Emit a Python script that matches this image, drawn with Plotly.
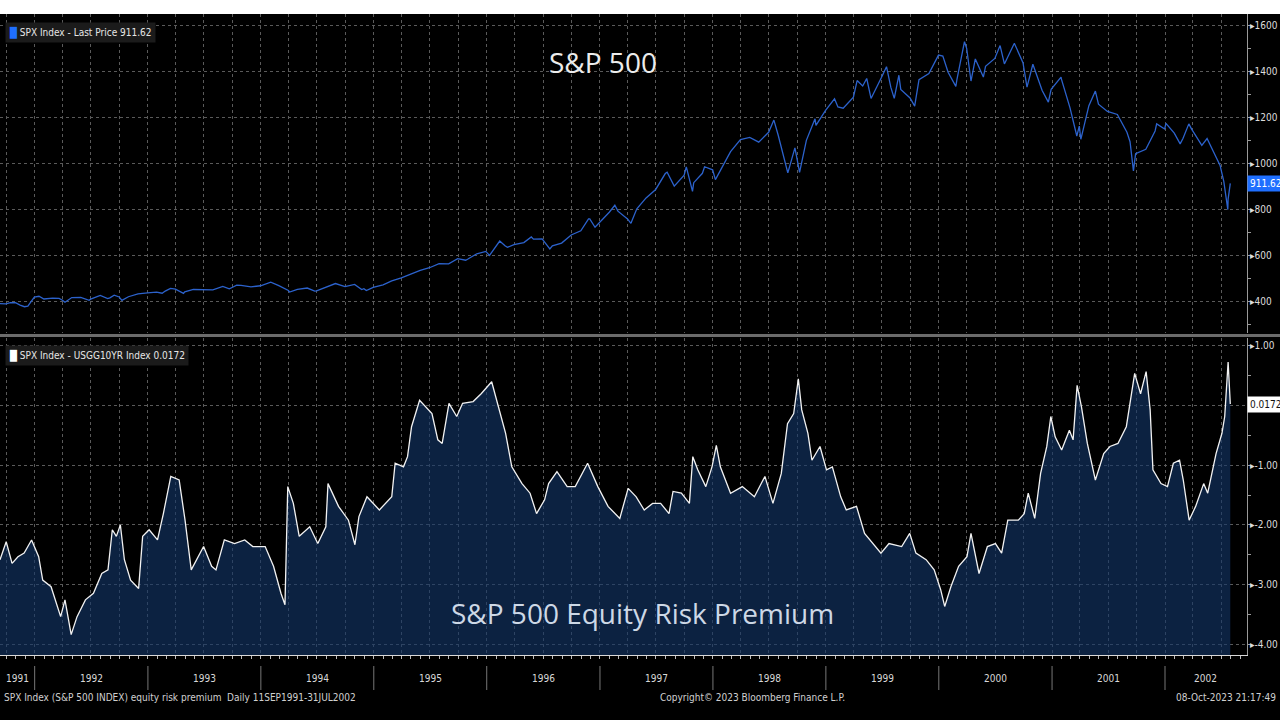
import plotly.graph_objects as go
import pandas as pd

# S&P 500 last price (month ends plus the main swings)
spx_dates = [
    "1991-09-11", "1991-09-30", "1991-10-15", "1991-10-31", "1991-11-15", "1991-11-29", "1991-12-10", "1991-12-31",
    "1992-01-15", "1992-01-31", "1992-02-28", "1992-03-20", "1992-03-31", "1992-04-08", "1992-04-30", "1992-05-29",
    "1992-06-25", "1992-06-30", "1992-07-31", "1992-08-24", "1992-08-31", "1992-09-14", "1992-09-30", "1992-10-09",
    "1992-10-30", "1992-11-30", "1992-12-31",
    "1993-01-29", "1993-02-16", "1993-02-26", "1993-03-15", "1993-03-31", "1993-04-26", "1993-04-30", "1993-05-28",
    "1993-06-30", "1993-07-30", "1993-08-31", "1993-09-21", "1993-09-30", "1993-10-15", "1993-10-29", "1993-11-30",
    "1993-12-31",
    "1994-02-02", "1994-02-28", "1994-03-31", "1994-04-04", "1994-04-29", "1994-05-31", "1994-06-24", "1994-06-30",
    "1994-07-29", "1994-08-30", "1994-09-30", "1994-10-31", "1994-11-23", "1994-11-30", "1994-12-08", "1994-12-30",
    "1995-01-31", "1995-02-28", "1995-03-31", "1995-04-28", "1995-05-31", "1995-06-30", "1995-07-31", "1995-08-31",
    "1995-09-29", "1995-10-25", "1995-10-31", "1995-11-30", "1995-12-29",
    "1996-01-10", "1996-01-31", "1996-02-12", "1996-02-29", "1996-03-08", "1996-03-29", "1996-04-30", "1996-05-24",
    "1996-05-31", "1996-06-28", "1996-07-23", "1996-07-31", "1996-08-30", "1996-09-30", "1996-10-31", "1996-11-25",
    "1996-11-29", "1996-12-16", "1996-12-31",
    "1997-01-31", "1997-02-18", "1997-02-28", "1997-03-31", "1997-04-11", "1997-04-30", "1997-05-30", "1997-06-30",
    "1997-07-31", "1997-08-06", "1997-08-29", "1997-09-30", "1997-10-07", "1997-10-27", "1997-10-31", "1997-11-28",
    "1997-12-05", "1997-12-31",
    "1998-01-09", "1998-01-30", "1998-02-27", "1998-03-31", "1998-04-30", "1998-05-29", "1998-06-30", "1998-07-17",
    "1998-07-31", "1998-08-31", "1998-09-23", "1998-09-30", "1998-10-08", "1998-10-30", "1998-11-27", "1998-11-30",
    "1998-12-31",
    "1999-01-29", "1999-02-09", "1999-02-26", "1999-03-31", "1999-04-12", "1999-04-30", "1999-05-13", "1999-05-27",
    "1999-06-30", "1999-07-16", "1999-07-30", "1999-08-10", "1999-08-25", "1999-08-31", "1999-09-30", "1999-10-15",
    "1999-10-29", "1999-11-30", "1999-12-31",
    "2000-01-14", "2000-01-31", "2000-02-25", "2000-02-29", "2000-03-24", "2000-03-31", "2000-04-14", "2000-04-28",
    "2000-05-24", "2000-05-31", "2000-06-30", "2000-07-17", "2000-07-31", "2000-08-31", "2000-09-01", "2000-09-29",
    "2000-10-12", "2000-10-31", "2000-11-30", "2000-12-20", "2000-12-29",
    "2001-01-30", "2001-01-31", "2001-02-28", "2001-03-22", "2001-03-30", "2001-04-04", "2001-04-30", "2001-05-21",
    "2001-05-31", "2001-06-29", "2001-07-31", "2001-08-31", "2001-09-10", "2001-09-21", "2001-09-28", "2001-10-31",
    "2001-11-30", "2001-12-05", "2001-12-31",
    "2002-01-04", "2002-01-31", "2002-02-19", "2002-02-28", "2002-03-19", "2002-03-28", "2002-04-30", "2002-05-17",
    "2002-05-31", "2002-06-28", "2002-07-10", "2002-07-23", "2002-07-24", "2002-07-31",
]
spx_values = [
    388.6, 387.9, 392.8, 392.5, 382.6, 375.2, 377.9, 417.1,
    420.8, 408.8, 412.7, 411.3, 403.7, 394.5, 415.0, 415.4,
    403.4, 408.1, 424.2, 410.7, 414.0, 425.3, 417.8, 402.7,
    418.7, 431.4, 435.7,
    438.8, 433.9, 443.4, 455.0, 451.7, 433.5, 440.2, 450.2,
    450.5, 448.1, 463.6, 452.9, 458.9, 469.5, 467.8, 461.8,
    466.5,
    482.0, 467.1, 445.8, 438.9, 450.9, 456.5, 442.8, 444.3,
    458.3, 476.1, 462.7, 472.4, 449.9, 453.7, 445.5, 459.3,
    470.4, 487.4, 500.7, 514.7, 533.4, 544.8, 562.1, 561.9,
    584.4, 577.5, 581.5, 605.4, 615.9,
    598.5, 636.0, 661.0, 640.4, 633.5, 645.5, 654.2, 678.5,
    669.1, 670.6, 626.9, 640.0, 652.0, 687.3, 705.3, 757.0,
    757.0, 720.9, 740.7,
    786.2, 816.3, 790.8, 757.1, 737.7, 801.3, 848.3, 885.1,
    954.3, 960.3, 899.5, 947.3, 983.1, 877.0, 914.6, 955.4,
    983.8, 970.4,
    927.7, 980.3, 1049.3, 1101.8, 1111.8, 1090.8, 1133.8, 1186.8,
    1120.7, 957.3, 1066.1, 1017.0, 959.4, 1098.7, 1192.3, 1163.6,
    1229.2,
    1279.6, 1243.8, 1238.3, 1286.4, 1358.6, 1335.2, 1367.6, 1280.8,
    1372.7, 1418.8, 1328.7, 1281.4, 1381.8, 1320.4, 1282.7, 1247.4,
    1362.9, 1388.9, 1469.3,
    1465.2, 1394.5, 1333.4, 1366.4, 1527.5, 1498.6, 1356.6, 1452.4,
    1373.9, 1420.6, 1454.6, 1510.5, 1430.8, 1517.7, 1520.8, 1436.5,
    1329.8, 1429.4, 1315.0, 1264.7, 1320.3,
    1373.7, 1366.0, 1239.9, 1117.6, 1160.3, 1103.3, 1249.5, 1312.8,
    1255.8, 1224.4, 1211.2, 1133.6, 1092.5, 965.8, 1040.9, 1059.8,
    1139.5, 1170.4, 1148.1,
    1172.5, 1130.2, 1083.3, 1106.7, 1170.3, 1147.4, 1076.9, 1106.6,
    1067.1, 989.8, 920.5, 797.7, 843.4, 911.62,
]

# SPX earnings yield minus USGG10YR (equity risk premium)
erp_dates = [
    "1991-09-11", "1991-10-01", "1991-10-20", "1991-11-08", "1991-11-28", "1991-12-22",
    "1992-01-14", "1992-01-27", "1992-02-23", "1992-03-12", "1992-03-25", "1992-04-08", "1992-04-28", "1992-05-17",
    "1992-06-13", "1992-07-09", "1992-08-05", "1992-08-25", "1992-09-08", "1992-09-21", "1992-10-04", "1992-10-17",
    "1992-11-06", "1992-12-02", "1992-12-15",
    "1993-01-05", "1993-02-01", "1993-02-20", "1993-03-16", "1993-04-12", "1993-05-01", "1993-05-21", "1993-06-30",
    "1993-07-26", "1993-08-09", "1993-09-05", "1993-10-08", "1993-11-10", "1993-12-06",
    "1994-01-15", "1994-02-11", "1994-03-07", "1994-03-20", "1994-03-29", "1994-04-16", "1994-05-05", "1994-06-08",
    "1994-07-04", "1994-07-30", "1994-08-06", "1994-09-09", "1994-10-11", "1994-11-01", "1994-11-14", "1994-12-10",
    "1995-01-19", "1995-02-28", "1995-03-11", "1995-04-07", "1995-04-20", "1995-05-03", "1995-05-29", "1995-07-08",
    "1995-07-27", "1995-08-10", "1995-09-01", "1995-09-26", "1995-10-15", "1995-11-18", "1995-12-14",
    "1996-01-17", "1996-01-30", "1996-03-02", "1996-03-22", "1996-04-24", "1996-05-20", "1996-06-10", "1996-07-06",
    "1996-07-19", "1996-08-15", "1996-09-17", "1996-10-13", "1996-11-22", "1996-12-25",
    "1997-01-27", "1997-03-06", "1997-04-02", "1997-04-28", "1997-05-24", "1997-06-20", "1997-07-16", "1997-08-12",
    "1997-08-25", "1997-09-21", "1997-10-17", "1997-10-28", "1997-11-13", "1997-12-09", "1997-12-29",
    "1998-01-12", "1998-01-25", "1998-02-27", "1998-04-06", "1998-05-15", "1998-06-18", "1998-07-14", "1998-08-10",
    "1998-08-30", "1998-09-19", "1998-10-04", "1998-10-15", "1998-11-04", "1998-11-17", "1998-12-13",
    "1999-01-03", "1999-01-22", "1999-02-18", "1999-03-08", "1999-04-10", "1999-05-06", "1999-06-02", "1999-06-28",
    "1999-07-24", "1999-09-03", "1999-09-29", "1999-10-19", "1999-11-21", "1999-12-17",
    "2000-01-07", "2000-01-20", "2000-02-09", "2000-03-05", "2000-04-01", "2000-04-14", "2000-05-10", "2000-06-06",
    "2000-07-02", "2000-07-22", "2000-08-11", "2000-09-14", "2000-10-03", "2000-10-16", "2000-11-06", "2000-11-25",
    "2000-12-15", "2000-12-28",
    "2001-01-11", "2001-02-01", "2001-02-26", "2001-03-10", "2001-03-23", "2001-04-06", "2001-04-25", "2001-05-21",
    "2001-06-17", "2001-07-07", "2001-08-02", "2001-08-29", "2001-09-25", "2001-10-14", "2001-11-01", "2001-11-14",
    "2001-11-23", "2001-12-19",
    "2002-01-09", "2002-01-28", "2002-02-17", "2002-03-01", "2002-03-20", "2002-04-10", "2002-05-06", "2002-05-19",
    "2002-06-15", "2002-07-04", "2002-07-13", "2002-07-24", "2002-07-31",
]
erp_values = [
    -2.58, -2.28, -2.64, -2.53, -2.47, -2.25,
    -2.53, -2.92, -3.03, -3.31, -3.53, -3.25, -3.83, -3.53,
    -3.25, -3.14, -2.81, -2.75, -2.08, -2.19, -2.00, -2.58,
    -2.92, -3.06, -2.19,
    -2.08, -2.25, -1.81, -1.19, -1.25, -1.92, -2.75, -2.36,
    -2.69, -2.75, -2.25, -2.31, -2.25, -2.36,
    -2.36, -2.69, -3.14, -3.33, -1.36, -1.64, -2.19, -2.03,
    -2.31, -2.03, -1.31, -1.69, -1.92, -2.33, -1.86, -1.53,
    -1.75, -1.53, -0.97, -1.03, -0.86, -0.36, 0.08, -0.14,
    -0.58, -0.64, 0.03, -0.19, 0.03, 0.06, 0.19,
    0.39, 0.14, -0.47, -1.03, -1.31, -1.47, -1.81, -1.58,
    -1.31, -1.11, -1.36, -1.36, -0.97, -1.36,
    -1.69, -1.89, -1.39, -1.53, -1.75, -1.64, -1.64, -1.81,
    -1.44, -1.47, -1.64, -0.86, -1.08, -1.36, -1.03,
    -0.67, -1.03, -1.47, -1.36, -1.53, -1.19, -1.64, -1.14,
    -0.31, -0.14, 0.44, -0.08, -0.47, -0.92, -0.69,
    -1.08, -1.03, -1.53, -1.75, -1.69, -2.14, -2.31, -2.47,
    -2.31, -2.36, -2.14, -2.47, -2.58, -2.75,
    -3.08, -3.36, -3.03, -2.69, -2.53, -2.14, -2.81, -2.36,
    -2.31, -2.47, -1.92, -1.92, -1.81, -1.47, -1.89, -1.14,
    -0.69, -0.19,
    -0.53, -0.75, -0.42, -0.58, 0.33, -0.03, -0.64, -1.25,
    -0.81, -0.69, -0.64, -0.36, 0.53, 0.19, 0.56, -0.08,
    -1.08, -1.31,
    -1.36, -0.97, -0.92, -1.25, -1.92, -1.69, -1.31, -1.47,
    -0.81, -0.47, -0.19, 0.72, 0.0172,
]

years = list(range(1991, 2003))
spx_ticks = [400, 600, 800, 1000, 1200, 1400, 1600]
erp_ticks = [1, 0, -1, -2, -3, -4]

X_RANGE = ["1991-09-11", "2002-09-23"]
SPX_RANGE = [261, 1648]
ERP_RANGE = [-4.17, 1.12]

W, H = 1280, 720
M_L, M_R, M_T, M_B = 0, 33, 14, 65
plot_w = W - M_L - M_R
plot_h = H - M_T - M_B


def py(px):
    # pixel row -> paper y
    return (H - M_B - px) / plot_h


def pxx(px):
    return (px - M_L) / plot_w


FONT = "DejaVu Sans Condensed, Liberation Sans Narrow, sans-serif"
TITLE_FONT = "Open Sans, Noto Sans, sans-serif"
GRID = "#5a5a5a"

fig = go.Figure()

# upper panel: price line
fig.add_trace(go.Scatter(x=spx_dates, y=spx_values, mode="lines",
                         line=dict(color="#2c62cc", width=1.3),
                         xaxis="x2", yaxis="y2", hoverinfo="skip"))

# lower panel: baseline then filled premium line
fig.add_trace(go.Scatter(x=[erp_dates[0], erp_dates[-1]], y=[ERP_RANGE[0]] * 2,
                         mode="lines", line=dict(width=0), hoverinfo="skip"))
fig.add_trace(go.Scatter(x=erp_dates, y=erp_values, mode="lines",
                         line=dict(color="#f2f2f2", width=1.3),
                         fill="tonexty", fillcolor="rgba(20,55,105,0.62)",
                         hoverinfo="skip"))

xcommon = dict(type="date", range=X_RANGE, showgrid=True, gridcolor=GRID, griddash="dot",
               gridwidth=1, tick0="1991-10-01", dtick="M3", zeroline=False,
               showticklabels=False)

fig.update_layout(
    width=W, height=H,
    margin=dict(l=M_L, r=M_R, t=M_T, b=M_B),
    paper_bgcolor="black", plot_bgcolor="black",
    showlegend=False,
    font=dict(family=FONT, color="#dddddd", size=10),
    xaxis=dict(**xcommon, anchor="y", showline=True, linecolor="#d8d8d8", linewidth=1,
               ticks="outside", ticklen=3, tickcolor="#bbbbbb",
               minor=dict(dtick="M1", tick0="1991-10-01", ticks="outside", ticklen=3,
                          tickcolor="#bbbbbb", showgrid=False)),
    xaxis2=dict(**xcommon, anchor="y2", matches="x", showline=False, ticks=""),
    yaxis=dict(domain=[0, py(338)], range=ERP_RANGE, side="right", anchor="x",
               tickmode="array", tickvals=erp_ticks,
               ticktext=["▸1.00" if v == 1 else ("" if v == 0 else "▸%.2f" % v) for v in erp_ticks],
               showgrid=True, gridcolor=GRID, griddash="dot", zeroline=False,
               showline=True, linecolor="#9a9a9a", linewidth=1, ticks="",
               ticklabelstandoff=0,
               tickfont=dict(family=FONT, size=10, color="#dddddd"),
               minor=dict(tickmode="linear", tick0=0, dtick=0.5, ticks="outside",
                          ticklen=3, tickcolor="#9a9a9a", showgrid=False)),
    yaxis2=dict(domain=[py(333), 1], range=SPX_RANGE, side="right", anchor="x2",
                tickmode="array", tickvals=spx_ticks, ticktext=["▸%d" % v for v in spx_ticks],
                showgrid=True, gridcolor=GRID, griddash="dot", zeroline=False,
                showline=True, linecolor="#9a9a9a", linewidth=1, ticks="",
                ticklabelstandoff=0,
                tickfont=dict(family=FONT, size=10, color="#dddddd"),
                minor=dict(tickmode="linear", tick0=0, dtick=100, ticks="outside",
                           ticklen=3, tickcolor="#9a9a9a", showgrid=False)),
)

shapes = []
# white strip at the very top
shapes.append(dict(type="rect", xref="paper", yref="paper", x0=-0.01, x1=W / plot_w + 0.01,
                   y0=1, y1=py(0) + 0.01, fillcolor="white", line=dict(width=0), layer="above"))
# separator between panels
shapes.append(dict(type="line", xref="paper", yref="paper", x0=0, x1=W / plot_w,
                   y0=py(335.5), y1=py(335.5), line=dict(color="#6b6b6b", width=3), layer="above"))
# year separators under the axis
for yr in years[1:]:
    d = "%d-01-01" % yr
    shapes.append(dict(type="line", xref="x", yref="paper", x0=d, x1=d,
                       y0=py(666), y1=py(690), line=dict(color="#777777", width=1)))
fig.update_layout(shapes=shapes)

ann = []
# year labels centred in the visible part of each year
r0, r1 = pd.Timestamp(X_RANGE[0]), pd.Timestamp(X_RANGE[1])
for yr in years:
    a = max(pd.Timestamp("%d-01-01" % yr), r0)
    b = min(pd.Timestamp("%d-01-01" % (yr + 1)), r1)
    mid = a + (b - a) / 2
    ann.append(dict(x=mid.strftime("%Y-%m-%d"), y=py(678), xref="x", yref="paper",
                    xanchor="center", yanchor="middle",
                    text=str(yr), showarrow=False, font=dict(size=10, color="#d8d8d8")))

# legends
ann.append(dict(x=pxx(5), y=py(32), xref="paper", yref="paper", xanchor="left", yanchor="middle",
                text="<span style='color:#1f6fff'>█</span> SPX Index - Last Price %.2f" % spx_values[-1],
                showarrow=False, bgcolor="#1b1b1b", borderpad=3,
                font=dict(size=10, color="#e6e6e6")))
ann.append(dict(x=pxx(5), y=py(355), xref="paper", yref="paper", xanchor="left", yanchor="middle",
                text="<span style='color:#ffffff'>█</span> SPX Index - USGG10YR Index %.4f" % erp_values[-1],
                showarrow=False, bgcolor="#1b1b1b", borderpad=3,
                font=dict(size=10, color="#e6e6e6")))

# last value tags on the axis
ann.append(dict(x=1.0, y=spx_values[-1], xref="paper", yref="y2", xanchor="left", yanchor="middle",
                text="%.2f" % spx_values[-1], showarrow=False, bgcolor="#1f6fff", borderpad=2,
                font=dict(size=10, color="white")))
ann.append(dict(x=1.0, y=erp_values[-1], xref="paper", yref="y", xanchor="left", yanchor="middle",
                text="%.4f" % erp_values[-1], showarrow=False, bgcolor="#ffffff", borderpad=2,
                font=dict(size=10, color="#111111")))

# panel titles
ann.append(dict(x=pxx(603), y=py(62), xref="paper", yref="paper", xanchor="center", yanchor="middle",
                text="S&P 500", showarrow=False,
                font=dict(family=TITLE_FONT, size=28, color="#ececec")))
ann.append(dict(x=pxx(642), y=py(613), xref="paper", yref="paper", xanchor="center", yanchor="middle",
                text="S&P 500 Equity Risk Premium", showarrow=False,
                font=dict(family=TITLE_FONT, size=28, color="#cdd8e6")))

# footer
ann.append(dict(x=pxx(2), y=py(697), xref="paper", yref="paper", xanchor="left", yanchor="middle",
                text="SPX Index (S&P 500 INDEX) equity risk premium  Daily 11SEP1991-31JUL2002",
                showarrow=False, font=dict(size=10, color="#d0d0d0")))
ann.append(dict(x=pxx(752), y=py(697), xref="paper", yref="paper", xanchor="center", yanchor="middle",
                text="Copyright© 2023 Bloomberg Finance L.P.",
                showarrow=False, font=dict(size=10, color="#d0d0d0")))
ann.append(dict(x=pxx(1278), y=py(697), xref="paper", yref="paper", xanchor="right", yanchor="middle",
                text="08-Oct-2023 21:17:49",
                showarrow=False, font=dict(size=10, color="#d0d0d0")))
fig.update_layout(annotations=ann)

fig.write_html("out.html", config={"displayModeBar": False},
               post_script="document.body.style.margin='0';document.body.style.overflow='hidden';")
